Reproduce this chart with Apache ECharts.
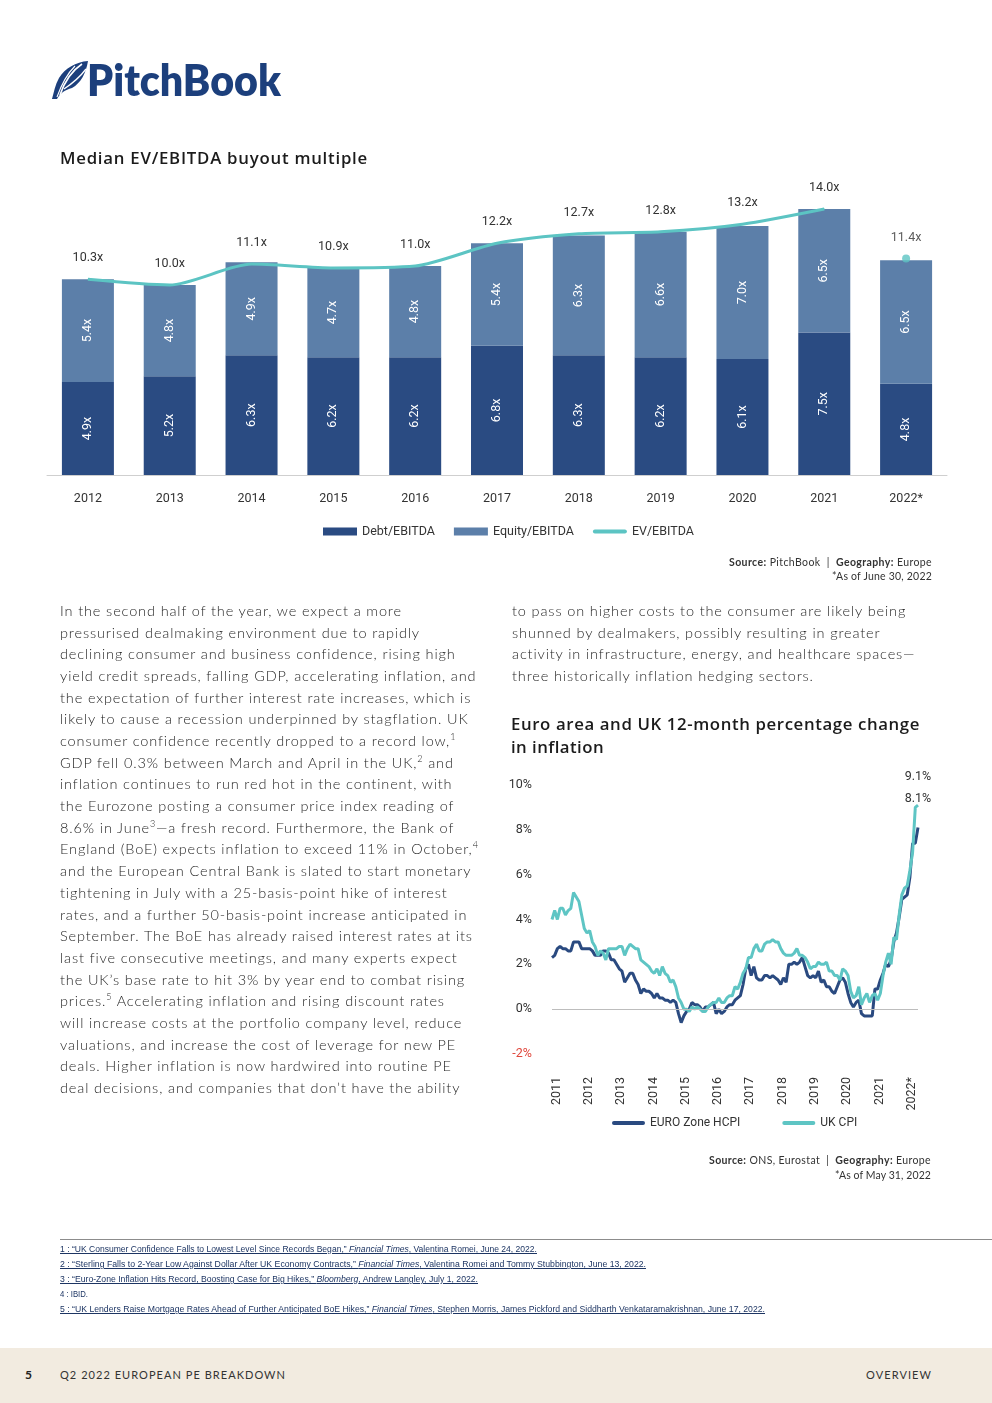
<!DOCTYPE html>
<html><head><meta charset="utf-8">
<script src="https://cdn.jsdelivr.net/npm/echarts/dist/echarts.min.js"></script>
<style>
html,body{margin:0;padding:0;background:#fff;}
body{width:992px;height:1403px;position:relative;overflow:hidden;color:#333;}
#chart{position:absolute;left:0;top:0;width:992px;height:1403px;}
.t{position:absolute;white-space:nowrap;}
.body{font-family:Lato,'Open Sans',sans-serif;font-weight:300;font-size:14.5px;line-height:20px;color:#262626;}
.body sup{font-size:9px;line-height:0;vertical-align:6px;}
.title{font-family:'Open Sans',sans-serif;font-weight:600;font-size:16.8px;line-height:22px;color:#1b1b1b;}
.src{font-family:Lato,sans-serif;font-size:10.5px;line-height:14px;color:#333;}
.src b{font-weight:700;}
.fn{font-family:'Liberation Sans','DejaVu Sans',sans-serif;font-size:9.5px;line-height:12px;color:#1d3563;text-decoration:underline;text-decoration-color:#1d3563;transform-origin:left center;}
.foot{font-family:Lato,sans-serif;font-size:11px;line-height:14px;color:#333;}
</style>
</head><body>
<div id="chart"></div>
<div id="page"></div>
<script>
// ---------- Chart 1 data ----------
const years = ['2012','2013','2014','2015','2016','2017','2018','2019','2020','2021','2022*'];
const debt = [4.9,5.2,6.3,6.2,6.2,6.8,6.3,6.2,6.1,7.5,4.8];
const equity = [5.4,4.8,4.9,4.7,4.8,5.4,6.3,6.6,7.0,6.5,6.5];
const ev = [10.3,10.0,11.1,10.9,11.0,12.2,12.7,12.8,13.2,14.0,11.4];

// ---------- Chart 2 data (monthly, Jan 2011 - May 2022) ----------
const euroHicp = [
 2.3,2.4,2.7,2.8,2.7,2.7,2.6,2.6,3.0,3.0,3.0,2.7,
 2.7,2.7,2.7,2.6,2.4,2.4,2.4,2.6,2.6,2.5,2.2,2.2,
 2.0,1.8,1.7,1.2,1.4,1.6,1.6,1.3,1.1,0.7,0.9,0.8,
 0.8,0.7,0.5,0.7,0.5,0.5,0.4,0.4,0.3,0.4,0.3,-0.2,
 -0.6,-0.3,-0.1,0.0,0.3,0.2,0.2,0.1,-0.1,0.1,0.1,0.2,
 0.3,-0.2,0.0,-0.2,-0.1,0.1,0.2,0.2,0.4,0.5,0.6,1.1,
 1.8,2.0,1.5,1.9,1.4,1.3,1.3,1.5,1.5,1.4,1.5,1.4,
 1.3,1.1,1.4,1.2,2.0,2.0,2.1,2.0,2.1,2.3,1.9,1.5,
 1.4,1.5,1.4,1.7,1.2,1.3,1.0,1.0,0.8,0.7,1.0,1.3,
 1.4,1.2,0.7,0.3,0.1,0.3,0.4,-0.2,-0.3,-0.3,-0.3,-0.3,
 0.9,0.9,1.3,1.6,2.0,1.9,2.2,3.0,3.4,4.1,4.9,5.0,
 5.1,5.9,7.4,7.4,8.1];
const ukCpi = [
 4.0,4.4,4.0,4.5,4.5,4.2,4.4,4.5,5.2,5.0,4.8,4.2,
 3.6,3.4,3.5,3.0,2.8,2.4,2.6,2.5,2.2,2.7,2.7,2.7,
 2.7,2.8,2.8,2.4,2.7,2.9,2.8,2.7,2.7,2.2,2.1,2.0,
 1.9,1.7,1.6,1.8,1.5,1.9,1.6,1.5,1.2,1.3,1.0,0.5,
 0.3,0.0,0.0,-0.1,0.1,0.0,0.1,0.0,-0.1,-0.1,0.1,0.2,
 0.3,0.3,0.5,0.3,0.3,0.5,0.6,0.6,1.0,0.9,1.2,1.6,
 1.8,2.3,2.3,2.7,2.9,2.6,2.6,2.9,3.0,3.0,3.1,3.0,
 3.0,2.7,2.5,2.4,2.4,2.4,2.5,2.7,2.4,2.4,2.3,2.1,
 1.8,1.9,1.9,2.1,2.0,2.0,2.1,1.7,1.7,1.5,1.5,1.3,
 1.8,1.7,1.5,0.8,0.5,0.6,1.0,0.2,0.5,0.7,0.3,0.6,
 0.7,0.4,0.7,1.5,2.1,2.5,2.0,3.2,3.1,4.2,5.1,5.4,
 5.5,6.2,7.0,9.0,9.1];
const yearTicks = ['2011','2012','2013','2014','2015','2016','2017','2018','2019','2020','2021','2022*'];
const months = [];
for (let y = 2011; y <= 2022; y++) for (let m = 1; m <= 12; m++) { if (months.length < euroHicp.length) months.push(y + '-' + String(m).padStart(2,'0')); }

// ---------- colors / fonts ----------
const C_DEBT = '#2a4b82', C_EQ = '#5c7fa9', C_EV = '#5cc4c3', C_EURO = '#2a4a80', C_UK = '#5ec5c4';
const NARROW = "Roboto,'Liberation Sans',sans-serif";
const LINE_ICON = 'path://M2,0 L32,0 A2,2 0 0 1 32,4 L2,4 A2,2 0 0 1 2,0 Z';

const chart = echarts.init(document.getElementById('chart'), null, {renderer:'canvas'});
const lastIdx = euroHicp.length - 1;
chart.setOption({
  animation:false,
  textStyle:{fontFamily:NARROW},
  grid:[
    {left:47, top:171, width:900, height:304},
    {left:552, top:785, width:366, height:269}
  ],
  xAxis:[
    {gridIndex:0, type:'category', data:years,
     axisLine:{lineStyle:{color:'#cfcfcf', width:1}}, axisTick:{show:false},
     axisLabel:{margin:17, fontSize:12.5, color:'#333', fontFamily:NARROW}},
    {gridIndex:1, type:'category', data:months, boundaryGap:false,
     axisLine:{show:false, onZero:false}, axisTick:{show:false},
     axisLabel:{interval:(i)=> i % 12 === 0, rotate:90, margin:23, fontSize:12.5, color:'#333', fontFamily:NARROW,
       verticalAlign:'top', lineHeight:9,
       formatter:(v, i)=> yearTicks[Math.floor(i/12)]}}
  ],
  yAxis:[
    {gridIndex:0, type:'value', min:0, max:16, show:false},
    {gridIndex:1, type:'value', min:-2, max:10, interval:2,
     axisLine:{show:false}, axisTick:{show:false}, splitLine:{show:false},
     axisLabel:{margin:20, fontSize:12.5, fontFamily:NARROW, formatter:'{value}%',
       color:(v)=> Number(v) < 0 ? '#e0473c' : '#333'}}
  ],
  legend:[
    {left:318, top:520, itemWidth:34, itemHeight:8, itemGap:19,
     textStyle:{fontSize:12.5, color:'#333', fontFamily:NARROW},
     data:[{name:'Debt/EBITDA', icon:'rect'},{name:'Equity/EBITDA', icon:'rect'},{name:'EV/EBITDA', icon:LINE_ICON}]},
    {left:607, top:1112, itemWidth:33, itemHeight:8, itemGap:42,
     textStyle:{fontSize:12, color:'#333', fontFamily:NARROW},
     data:[{name:'EURO Zone HCPI', icon:LINE_ICON},{name:'UK CPI', icon:LINE_ICON}]}
  ],
  series:[
    {name:'Debt/EBITDA', type:'bar', xAxisIndex:0, yAxisIndex:0, stack:'m', data:debt, barWidth:52,
     itemStyle:{color:C_DEBT},
     label:{show:true, position:'inside', rotate:90, color:'#fff', fontSize:12.5, fontFamily:NARROW,
       formatter:(p)=> p.value.toFixed(1)+'x'}},
    {name:'Equity/EBITDA', type:'bar', xAxisIndex:0, yAxisIndex:0, stack:'m', data:equity, barWidth:52,
     itemStyle:{color:C_EQ},
     label:{show:true, position:'inside', rotate:90, color:'#fff', fontSize:12.5, fontFamily:NARROW,
       formatter:(p)=> p.value.toFixed(1)+'x'}},
    {name:'EV/EBITDA', type:'line', xAxisIndex:0, yAxisIndex:0,
     data:ev.map((v,i)=> i < ev.length-1 ? v : '-'),
     smooth:0.25, symbol:'circle', symbolSize:1, showSymbol:true,
     lineStyle:{color:C_EV, width:3}, itemStyle:{color:C_EV},
     label:{show:true, position:'top', distance:14, color:'#333', fontSize:12.5, fontFamily:NARROW,
       formatter:(p)=> p.value.toFixed(1)+'x'}, z:5},
    {name:'EV/EBITDA', type:'scatter', xAxisIndex:0, yAxisIndex:0,
     data:ev.map((v,i)=> i === ev.length-1 ? v : '-'),
     symbolSize:8, itemStyle:{color:C_EV},
     label:{show:true, position:'top', distance:10, color:'#333', fontSize:12.5, fontFamily:NARROW,
       formatter:(p)=> p.value.toFixed(1)+'x'}, z:5},
    {name:'EURO Zone HCPI', type:'line', xAxisIndex:1, yAxisIndex:1, data:euroHicp,
     symbol:'none', lineStyle:{color:C_EURO, width:3}, itemStyle:{color:C_EURO},
     markLine:{silent:true, symbol:'none', label:{show:false},
       lineStyle:{color:'#bdbdbd', width:1, type:'solid'}, data:[{yAxis:0}]},
     markPoint:{silent:true, symbol:'circle', symbolSize:0,
       label:{show:true, position:'top', distance:22, color:'#333', fontSize:12.5, fontFamily:NARROW, formatter:'{c}%'},
       data:[{coord:[lastIdx, euroHicp[lastIdx]], value:euroHicp[lastIdx].toFixed(1)}]}},
    {name:'UK CPI', type:'line', xAxisIndex:1, yAxisIndex:1, data:ukCpi,
     symbol:'none', lineStyle:{color:C_UK, width:3}, itemStyle:{color:C_UK},
     markPoint:{silent:true, symbol:'circle', symbolSize:0,
       label:{show:true, position:'top', distance:22, color:'#333', fontSize:12.5, fontFamily:NARROW, formatter:'{c}%'},
       data:[{coord:[lastIdx, ukCpi[lastIdx]], value:ukCpi[lastIdx].toFixed(1)}]}}
  ]
});

// ---------- page text ----------
const page = document.getElementById('page');
function add(html, cls, css){ const d=document.createElement('div'); d.className='t '+cls; d.innerHTML=html; Object.assign(d.style, css); page.appendChild(d); return d; }

// logo
page.insertAdjacentHTML('beforeend',
 '<svg style="position:absolute;left:51px;top:60px" width="38" height="40" viewBox="0 0 38 40">'+
 '<path d="M37 1 C25 2 14 8 8 18 C4 25 3 32 1 39 L6 39 C9 33 14 30 21 28 C30 23 35 13 37 1 Z" fill="#1c3f7c"/>'+
 '<path d="M31 4 C22 10 14 20 9 35" stroke="#fff" stroke-width="1.6" fill="none"/>'+
 '<path d="M35 9 C29 17 22 23 13 29" stroke="#fff" stroke-width="1.3" fill="none"/>'+
 '<path d="M24 6 C17 13 11 23 6 37" stroke="#fff" stroke-width="1.1" fill="none"/></svg>');
const logo = add('PitchBook','', {left:'87px', top:'54px', fontFamily:'Lato,sans-serif', fontWeight:'800', fontSize:'44px', lineHeight:'50px', color:'#1c3f7c', transformOrigin:'left center'});

const t1 = add('Median EV/EBITDA buyout multiple','title',{left:'60px', top:(158-11)+'px'});
const t2a = add('Euro area and UK 12-month percentage change','title',{left:'511px', top:(724-11)+'px'});
const t2b = add('in inflation','title',{left:'511px', top:(747-11)+'px'});

const s1a = add('<b>Source:</b> PitchBook &nbsp;|&nbsp; <b>Geography:</b> Europe','src',{right:'60px', top:(562-7)+'px'});
const s1b = add('*As of June 30, 2022','src',{right:'60px', top:(576-7)+'px'});
const s2a = add('<b>Source:</b> ONS, Eurostat &nbsp;|&nbsp; <b>Geography:</b> Europe','src',{right:'61px', top:(1160-7)+'px'});
const s2b = add('*As of May 31, 2022','src',{right:'61px', top:(1175-7)+'px'});

const leftLines = [
 'In the second half of the year, we expect a more',
 'pressurised dealmaking environment due to rapidly',
 'declining consumer and business confidence, rising high',
 'yield credit spreads, falling GDP, accelerating inflation, and',
 'the expectation of further interest rate increases, which is',
 'likely to cause a recession underpinned by stagflation. UK',
 'consumer confidence recently dropped to a record low,<sup>1</sup>',
 'GDP fell 0.3% between March and April in the UK,<sup>2</sup> and',
 'inflation continues to run red hot in the continent, with',
 'the Eurozone posting a consumer price index reading of',
 '8.6% in June<sup>3</sup>—a fresh record. Furthermore, the Bank of',
 'England (BoE) expects inflation to exceed 11% in October,<sup>4</sup>',
 'and the European Central Bank is slated to start monetary',
 'tightening in July with a 25-basis-point hike of interest',
 'rates, and a further 50-basis-point increase anticipated in',
 'September. The BoE has already raised interest rates at its',
 'last five consecutive meetings, and many experts expect',
 'the UK’s base rate to hit 3% by year end to combat rising',
 'prices.<sup>5</sup> Accelerating inflation and rising discount rates',
 'will increase costs at the portfolio company level, reduce',
 'valuations, and increase the cost of leverage for new PE',
 'deals. Higher inflation is now hardwired into routine PE',
 'deal decisions, and companies that don’t have the ability'];
const rightLines = [
 'to pass on higher costs to the consumer are likely being',
 'shunned by dealmakers, possibly resulting in greater',
 'activity in infrastructure, energy, and healthcare spaces—',
 'three historically inflation hedging sectors.'];
const bodyEls = [];
leftLines.forEach((l,i)=> bodyEls.push(add(l,'body',{left:'60px', top:(612 + i*21.68 - 11)+'px'})));
rightLines.forEach((l,i)=> bodyEls.push(add(l,'body',{left:'512px', top:(612 + i*21.68 - 11)+'px'})));

// footnotes
page.insertAdjacentHTML('beforeend','<div style="position:absolute;left:60px;top:1239px;width:932px;height:1px;background:#8c8c8c"></div>');
const fns = [
 ['1 : “UK Consumer Confidence Falls to Lowest Level Since Records Began,” <i>Financial Times</i>, Valentina Romei, June 24, 2022.', 477, true],
 ['2 : “Sterling Falls to 2-Year Low Against Dollar After UK Economy Contracts,” <i>Financial Times</i>, Valentina Romei and Tommy Stubbington, June 13, 2022.', 586, true],
 ['3 : “Euro-Zone Inflation Hits Record, Boosting Case for Big Hikes,” <i>Bloomberg</i>, Andrew Langley, July 1, 2022.', 418, true],
 ['4 : IBID.', 28, false],
 ['5 : “UK Lenders Raise Mortgage Rates Ahead of Further Anticipated BoE Hikes,” <i>Financial Times</i>, Stephen Morris, James Pickford and Siddharth Venkataramakrishnan, June 17, 2022.', 705, true]];
const fnEls = fns.map((f,i)=>{ const e = add(f[0],'fn',{left:'60px', top:(1249 + i*15 - 6)+'px'}); if(!f[2]) e.style.textDecoration='none'; return [e,f[1]]; });

// footer
page.insertAdjacentHTML('beforeend','<div style="position:absolute;left:0;top:1348px;width:992px;height:55px;background:#f2ebe0"></div>');
const f5 = add('5','foot',{left:'25px', top:(1375-7)+'px', fontWeight:'700', fontSize:'12px', color:'#222'});
const fL = add('Q2 2022 EUROPEAN PE BREAKDOWN','foot',{left:'60px', top:(1375-7)+'px'});
const fR = add('OVERVIEW','foot',{right:'60px', top:(1375-7)+'px'});

function width(el){ return el.getBoundingClientRect().width; }
function fitLS(el, w){ el.style.letterSpacing='0px'; const n = el.textContent.length; const cur = width(el); el.style.letterSpacing = ((w-cur)/n)+'px'; }
function fitSX(el, w, origin){ el.style.transform='none'; const cur = width(el); el.style.transformOrigin = (origin||'left')+' center'; el.style.transform = 'scaleX('+(w/cur)+')'; }
function layout(){
  fitSX(logo, 194);
  fitLS(t1, 308); fitLS(t2a, 409); fitLS(t2b, 93);
  fitLS(s1a, 203); fitLS(s1b, 100); fitLS(s2a, 222); fitLS(s2b, 96);
  const ref = bodyEls[3]; ref.style.letterSpacing='0px';
  const ls = (417 - width(ref)) / ref.textContent.length;
  bodyEls.forEach(e=> e.style.letterSpacing = ls+'px');
  fnEls.forEach(([e,w])=> fitSX(e, w));
  fitLS(fL, 226); fitLS(fR, 66);
}
layout();
if (document.fonts && document.fonts.ready) document.fonts.ready.then(layout);
</script>
</body></html>
